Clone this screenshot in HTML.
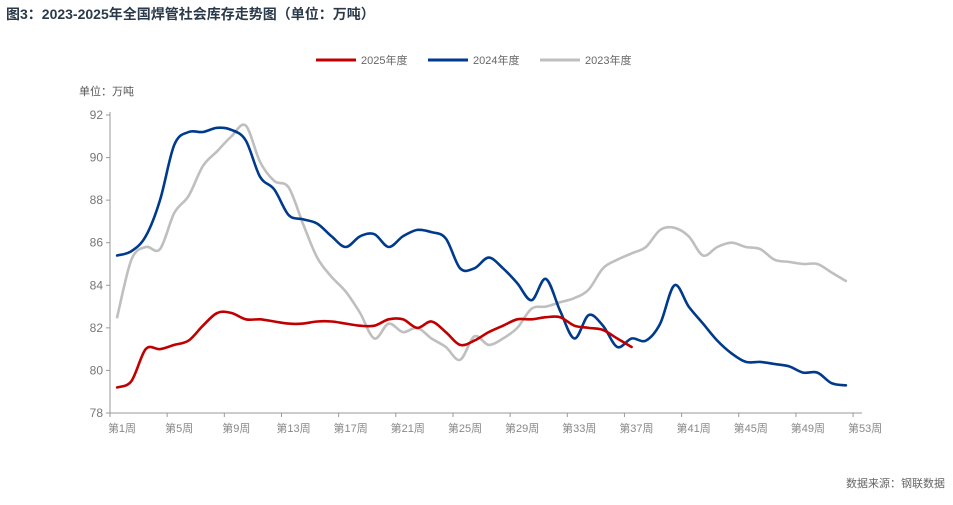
<!DOCTYPE html>
<html><head><meta charset="utf-8"><style>
body{margin:0;width:953px;height:500px;background:#fff;overflow:hidden;font-family:"Liberation Sans","Noto Sans CJK SC",sans-serif}
</style></head><body>
<svg id="chart" width="953" height="500" xmlns="http://www.w3.org/2000/svg" font-family="Liberation Sans, Noto Sans CJK SC, sans-serif">
<text x="6" y="19" font-size="14" font-weight="bold" fill="#2b3a4a">图3：2023-2025年全国焊管社会库存走势图（单位：万吨）</text>
<g>
<g><line x1="316" y1="60" x2="356" y2="60" stroke="#c00000" stroke-width="3"/><text x="361" y="64" font-size="11" fill="#666">2025年度</text></g>
<g><line x1="428" y1="60" x2="468" y2="60" stroke="#003a8c" stroke-width="3"/><text x="473" y="64" font-size="11" fill="#666">2024年度</text></g>
<g><line x1="540" y1="60" x2="580" y2="60" stroke="#bfbfbf" stroke-width="3"/><text x="585" y="64" font-size="11" fill="#666">2023年度</text></g>
</g>
<text x="79" y="95" font-size="11" fill="#555">单位：万吨</text>
<g id="axes"></g>
<g id="series"></g>
<text x="945" y="487" font-size="11" fill="#666" text-anchor="end">数据来源：钢联数据</text>
</svg>
<script>
const weeks = [];
for (let i = 1; i <= 52; i++) weeks.push(i);
const yTicks = [78, 80, 82, 84, 86, 88, 90, 92];
const xTickLabels = ["第1周","第5周","第9周","第13周","第17周","第21周","第25周","第29周","第33周","第37周","第41周","第45周","第49周","第53周"];
const s2023 = [82.5,85.2,85.8,85.7,87.4,88.2,89.6,90.3,91.0,91.5,89.8,88.9,88.6,86.9,85.3,84.4,83.7,82.7,81.5,82.2,81.8,82.0,81.5,81.1,80.5,81.6,81.2,81.5,82.0,82.9,83.0,83.2,83.4,83.8,84.8,85.2,85.5,85.8,86.6,86.7,86.3,85.4,85.8,86.0,85.8,85.7,85.2,85.1,85.0,85.0,84.6,84.2];
const s2024 = [85.4,85.6,86.3,88.0,90.6,91.2,91.2,91.4,91.3,90.8,89.1,88.5,87.3,87.1,86.9,86.3,85.8,86.3,86.4,85.8,86.3,86.6,86.5,86.2,84.8,84.8,85.3,84.8,84.1,83.3,84.3,82.8,81.5,82.6,82.1,81.1,81.5,81.4,82.2,84.0,83.0,82.2,81.4,80.8,80.4,80.4,80.3,80.2,79.9,79.9,79.4,79.3];
const s2025 = [79.2,79.5,81.0,81.0,81.2,81.4,82.1,82.7,82.7,82.4,82.4,82.3,82.2,82.2,82.3,82.3,82.2,82.1,82.1,82.4,82.4,82.0,82.3,81.8,81.2,81.4,81.8,82.1,82.4,82.4,82.5,82.5,82.1,82.0,81.9,81.5,81.1];

const X0 = 110, STEP = 14.29, Y0 = 413, YTOP = 115;
const xScale = w => X0 + (w - 0.5) * STEP;
const yScale = v => Y0 - (v - 78) / (92 - 78) * (Y0 - YTOP);
const NS = "http://www.w3.org/2000/svg";
const axes = document.getElementById('axes');
function mk(tag, attrs, parent){const e=document.createElementNS(NS,tag);for(const k in attrs)e.setAttribute(k,attrs[k]);parent.appendChild(e);return e;}

const yAxis = mk('line',{x1:X0,y1:YTOP-3,x2:X0,y2:Y0,stroke:'#999','stroke-width':1},axes);


const xAxis = mk('line',{x1:X0,y1:Y0,x2:862,y2:Y0,stroke:'#999','stroke-width':1},axes);


yTicks.forEach(v=>{
  const y=yScale(v);
  mk('line',{x1:X0-4,y1:y,x2:X0,y2:y,stroke:'#999'},axes);
  const t=mk('text',{x:X0-7,y:y+4,'font-size':12,fill:'#777','text-anchor':'end'},axes);
  t.textContent=v;
  
  
});
xTickLabels.forEach((lab,i)=>{
  const x=X0+i*4*STEP;
  mk('line',{x1:x,y1:Y0,x2:x,y2:Y0+4,stroke:'#999'},axes);
  const t=mk('text',{x:x+12,y:Y0+19,'font-size':11,fill:'#888','text-anchor':'middle'},axes);
  t.textContent=lab;
  
  
});

function smooth(pts){
  let d='M'+pts[0][0]+','+pts[0][1];
  for(let i=0;i<pts.length-1;i++){
    const p0=pts[i-1]||pts[i],p1=pts[i],p2=pts[i+1],p3=pts[i+2]||p2;
    const c1x=p1[0]+(p2[0]-p0[0])/6,c1y=p1[1]+(p2[1]-p0[1])/6;
    const c2x=p2[0]-(p3[0]-p1[0])/6,c2y=p2[1]-(p3[1]-p1[1])/6;
    d+=` C${c1x.toFixed(1)},${c1y.toFixed(1)} ${c2x.toFixed(1)},${c2y.toFixed(1)} ${p2[0].toFixed(1)},${p2[1].toFixed(1)}`;
  }
  return d;
}
const series = document.getElementById('series');
function drawLine(vals,color,name){
  const pts=vals.map((v,i)=>[xScale(weeks[i]),yScale(v)]);
  const p=mk('path',{d:smooth(pts),fill:'none',stroke:color,'stroke-width':2.6,'stroke-linejoin':'round','stroke-linecap':'round'},series);
  
  
}
drawLine(s2023,'#bfbfbf','line-2023');
drawLine(s2024,'#003a8c','line-2024');
drawLine(s2025,'#c00000','line-2025');
</script>
</body></html>
